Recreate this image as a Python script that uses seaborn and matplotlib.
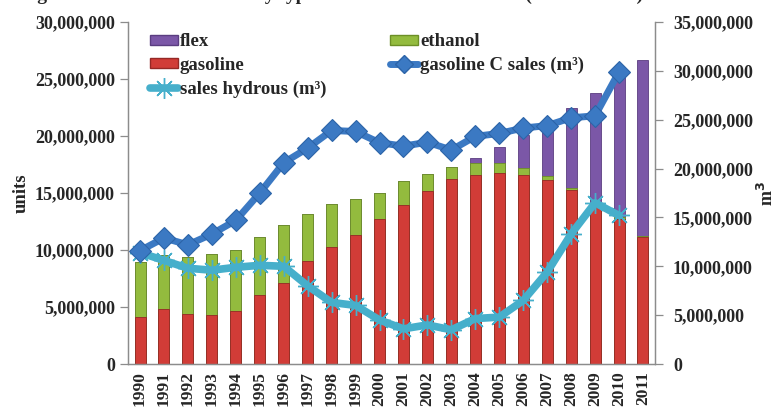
import numpy as np
import pandas as pd
import matplotlib
matplotlib.use("Agg")
import matplotlib.pyplot as plt
import seaborn as sns
from matplotlib.patches import Patch
from matplotlib.lines import Line2D
from matplotlib.ticker import FuncFormatter, FixedLocator

# datos (millones)
anios = [str(a) for a in range(1990, 2012)]
gasolina = [4.15, 4.8, 4.39, 4.27, 4.68, 6.05, 7.13, 9.04, 10.23, 11.34, 12.69,
            13.95, 15.2, 16.2, 16.6, 16.8, 16.6, 16.1, 15.3, 13.8, 12.7, 11.17]
etanol = [4.77, 4.8, 5.03, 5.35, 5.29, 5.05, 5.03, 4.16, 3.77, 3.16, 2.31,
          2.1, 1.47, 1.06, 1.0, 0.85, 0.6, 0.4, 0.15, 0.1, 0.2, 0.1]
flex = [0, 0, 0, 0, 0, 0, 0, 0, 0, 0, 0,
        0, 0, 0.04, 0.5, 1.35, 2.9, 4.8, 7.05, 9.9, 12.6, 15.4]
ventas_gasolina_c = [11.6, 12.9, 12.2, 13.3, 14.7, 17.5, 20.6, 22.1, 23.9, 23.8, 22.65,
                     22.3, 22.7, 21.9, 23.3, 23.6, 24.15, 24.4, 25.2, 25.4, 29.9, np.nan]
ventas_hidratado = [11.4, 10.6, 9.8, 9.6, 9.9, 10.1, 10.0, 8.0, 6.3, 6.0, 4.5,
                    3.6, 4.0, 3.5, 4.65, 4.8, 6.5, 9.4, 13.3, 16.5, 15.2, np.nan]

df = pd.DataFrame({
    "anio": anios,
    "gasolina": np.array(gasolina) * 1e6,
    "etanol": np.array(etanol) * 1e6,
    "flex": np.array(flex) * 1e6,
    "gasc": np.array(ventas_gasolina_c) * 1e6,
    "hidratado": np.array(ventas_hidratado) * 1e6,
})
df["g_e"] = df["gasolina"] + df["etanol"]
df["total"] = df["g_e"] + df["flex"]

rojo = "#d13c37"
verde = "#93bb3e"
morado = "#7b57a7"
azul = "#3b79c3"
celeste = "#46afcb"

sns.set_style("white")
plt.rcParams["font.family"] = ["Liberation Serif", "DejaVu Serif"]
plt.rcParams["font.weight"] = "bold"

fig = plt.figure(figsize=(7.76, 4.12), dpi=100)
ax = fig.add_axes([0.165, 0.1165, 0.679, 0.83])

# barras apiladas (superpuestas de mayor a menor)
ancho = 0.46
sns.barplot(data=df, x="anio", y="total", order=anios, color=morado, saturation=1,
            width=ancho, ax=ax, edgecolor="#5a3d80", linewidth=0.6)
sns.barplot(data=df, x="anio", y="g_e", order=anios, color=verde, saturation=1,
            width=ancho, ax=ax, edgecolor="#6c8f26", linewidth=0.6)
sns.barplot(data=df, x="anio", y="gasolina", order=anios, color=rojo, saturation=1,
            width=ancho, ax=ax, edgecolor="#952825", linewidth=0.6)

ax.set_ylim(0, 30e6)
ax.set_yticks(np.arange(0, 30e6 + 1, 5e6))
ax.yaxis.set_major_formatter(FuncFormatter(lambda v, p: f"{v:,.0f}"))
ax.set_ylabel("units", fontsize=13.5, fontweight="bold", labelpad=4)
ax.set_xlabel("")

# eje derecho con ventas
ax2 = ax.twinx()
sns.pointplot(data=df, x="anio", y="hidratado", order=anios, color=celeste, ax=ax2,
              markers=(8, 2, 0), markersize=15, linewidth=5.5, markeredgewidth=1.0,
              errorbar=None)
sns.pointplot(data=df, x="anio", y="gasc", order=anios, color=azul, ax=ax2,
              markers="D", markersize=11, linewidth=5, markeredgecolor="#2c64a8",
              markeredgewidth=0.8, errorbar=None)
ax2.set_ylim(0, 35e6)
ax2.set_yticks(np.arange(0, 35e6 + 1, 5e6))
ax2.yaxis.set_major_formatter(FuncFormatter(lambda v, p: f"{v:,.0f}"))
ax2.set_ylabel("m$^3$", fontsize=13, fontweight="bold", labelpad=3)
ax2.set_xlabel("")
ax.set_xlim(-0.5, len(anios) - 0.5)

for a in (ax, ax2):
    a.spines["top"].set_visible(False)
    for lado in ("left", "right", "bottom"):
        a.spines[lado].set_color("#8c8c8c")
        a.spines[lado].set_linewidth(0.9)
    a.tick_params(axis="y", labelsize=13, length=6, width=0.9, color="#8c8c8c", direction="out")
ax2.tick_params(axis="y", pad=7)

ax.tick_params(axis="x", labelsize=12.5, labelrotation=90, length=0, pad=5)
ax.xaxis.set_minor_locator(FixedLocator(np.arange(-0.5, len(anios), 1)))
ax.tick_params(axis="x", which="minor", length=5, width=0.9, color="#8c8c8c", direction="out")
for t in ax.get_xticklabels():
    t.set_fontweight("bold")
for t in ax.get_yticklabels() + ax2.get_yticklabels():
    t.set_fontweight("bold")

# leyenda
manijas = [
    Patch(facecolor=morado, edgecolor="#5a3d80", label="flex"),
    Patch(facecolor=rojo, edgecolor="#952825", label="gasoline"),
    Line2D([], [], color=celeste, lw=5.5, marker=(8, 2, 0), markersize=15,
           markeredgewidth=1.0, label="sales hydrous (m\u00b3)"),
    Patch(facecolor=verde, edgecolor="#6c8f26", label="ethanol"),
    Line2D([], [], color=azul, lw=5, marker="D", markersize=9,
           markeredgecolor="#2c64a8", label="gasoline C sales (m\u00b3)"),
]
ax2.legend(handles=manijas, ncol=2, frameon=False, loc="upper left",
           bbox_to_anchor=(0.02, 1.0), fontsize=13.5, handlelength=1.5,
           handleheight=0.45, handletextpad=0.1, columnspacing=3.4,
           labelspacing=0.35, borderaxespad=0.2)

# titulo cortado por arriba (solo se ven los trazos inferiores)
fig.text(0.0255, 1.0, "Figure 1 - New vehicle sales by type of fuel and the fuel sales (units and m\u00b3)",
         fontsize=14, fontweight="bold", va="baseline", ha="left")

fig.savefig("out.png", dpi=100)
